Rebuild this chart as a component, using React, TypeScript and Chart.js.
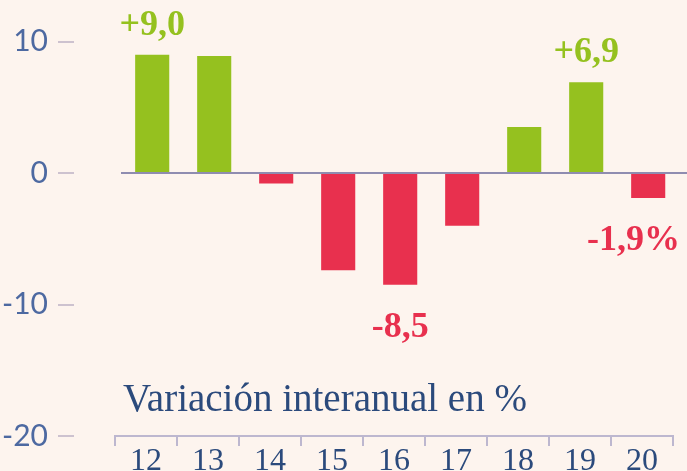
import React, { useEffect, useRef } from "react";
import { Chart, registerables } from "chart.js";

Chart.register(...registerables);

const categories = ["12", "13", "14", "15", "16", "17", "18", "19", "20"];
const values = [9.0, 8.9, -0.8, -7.4, -8.5, -4.0, 3.5, 6.9, -1.9];
const valueLabels = ["+9,0", "", "", "", "-8,5", "", "", "+6,9", "-1,9%"];
const yTicks = [-20, -10, 0, 10];
const title = "Variación interanual en %";

const GREEN = "#95c11f";
const RED = "#e8304e";
const BG = "#fdf4ee";

export default function App() {
  const ref = useRef<HTMLCanvasElement | null>(null);
  useEffect(() => {
    document.body.style.margin = "0";
    const canvas = ref.current!;
    const extras = {
      id: "extras",
      beforeDraw(chart: any) {
        const { ctx } = chart;
        ctx.save();
        ctx.fillStyle = BG;
        ctx.fillRect(0, 0, chart.width, chart.height);
        ctx.restore();
      },
      afterDatasetsDraw(chart: any) {
        const { ctx, chartArea } = chart;
        const y = chart.scales.y;
        const x = chart.scales.xb;
        ctx.save();
        // zero line
        ctx.strokeStyle = "#8f8cb0";
        ctx.lineWidth = 2;
        ctx.beginPath();
        const y0 = Math.round(y.getPixelForValue(0));
        ctx.moveTo(chartArea.left + 6, y0);
        ctx.lineTo(chart.width, y0);
        ctx.stroke();
        // y tick dashes
        ctx.strokeStyle = "#cdc2cf";
        ctx.lineWidth = 2;
        yTicks.forEach((v) => {
          const py = Math.round(y.getPixelForValue(v));
          ctx.beginPath();
          ctx.moveTo(58, py);
          ctx.lineTo(74, py);
          ctx.stroke();
        });
        // value labels
        ctx.font = "bold 36px 'Liberation Serif'";
        values.forEach((v, i) => {
          const t = valueLabels[i];
          if (!t) return;
          const px = x.getPixelForValue(i);
          const py = y.getPixelForValue(v);
          const w = ctx.measureText(t).width;
          let cx = px;
          if (cx + w / 2 > chart.width - 7) cx = chart.width - 7 - w / 2;
          ctx.textAlign = "center";
          ctx.textBaseline = "alphabetic";
          if (v >= 0) {
            ctx.fillStyle = GREEN;
            ctx.fillText(t, cx, py - 20);
          } else {
            ctx.fillStyle = RED;
            ctx.fillText(t, cx, py + 52);
          }
        });
        // title
        ctx.font = "39px 'Liberation Serif'";
        ctx.fillStyle = "#2b4a7c";
        ctx.textAlign = "left";
        ctx.fillText(title, 123, 411);
        ctx.restore();
      },
    };
    const chart = new Chart(canvas, {
      type: "bar",
      data: {
        labels: categories,
        datasets: [
          {
            data: values.map((v, i) => ({ x: i, y: v })),
            xAxisID: "xb",
            backgroundColor: values.map((v) => (v >= 0 ? GREEN : RED)),
            barPercentage: 0.55,
            categoryPercentage: 1,
            borderWidth: 0,
          },
        ],
      },
      options: {
        animation: false,
        responsive: false,
        maintainAspectRatio: false,
        layout: { padding: { top: 0, right: 14, left: 0, bottom: 0 } },
        plugins: {
          legend: { display: false },
          tooltip: { enabled: false },
          title: { display: false },
        },
        scales: {
          x: {
            type: "category",
            offset: true,
            grid: {
              display: true,
              offset: true,
              drawOnChartArea: false,
              drawTicks: true,
              tickLength: 10,
              color: "#bdb7cf",
              lineWidth: 2,
            },
            border: { display: true, color: "#bdb7cf", width: 2 },
            ticks: {
              color: "#2b4a7c",
              font: { family: "'Liberation Serif'", size: 32 },
              padding: -4,
              maxRotation: 0,
              autoSkip: false,
            },
            afterFit(scale: any) {
              scale.height = 35;
              scale.paddingLeft = 0;
              scale.paddingRight = 0;
            },
          },
          xb: {
            type: "linear",
            display: false,
            min: -0.6,
            max: 8.4,
            offset: false,
          },
          y: {
            min: -20,
            max: 13.16,
            afterBuildTicks(scale: any) {
              scale.ticks = yTicks.map((v) => ({ value: v }));
            },
            grid: { display: false, drawTicks: false },
            border: { display: false },
            ticks: {
              color: "#4d69a1",
              font: { family: "Lato", size: 30, weight: 400 },
              padding: 67,
              callback: (v: any) => String(v),
            },
            afterFit(scale: any) {
              scale.width = 115;
              scale.paddingTop = 0;
              scale.paddingBottom = 0;
            },
          },
        },
      },
      plugins: [extras],
    });
    return () => chart.destroy();
  }, []);
  return (
    <div style={{ position: "absolute", left: 0, top: 0, width: 687, height: 471, background: BG }}>
      <canvas ref={ref} width={687} height={471} style={{ display: "block" }} />
    </div>
  );
}
